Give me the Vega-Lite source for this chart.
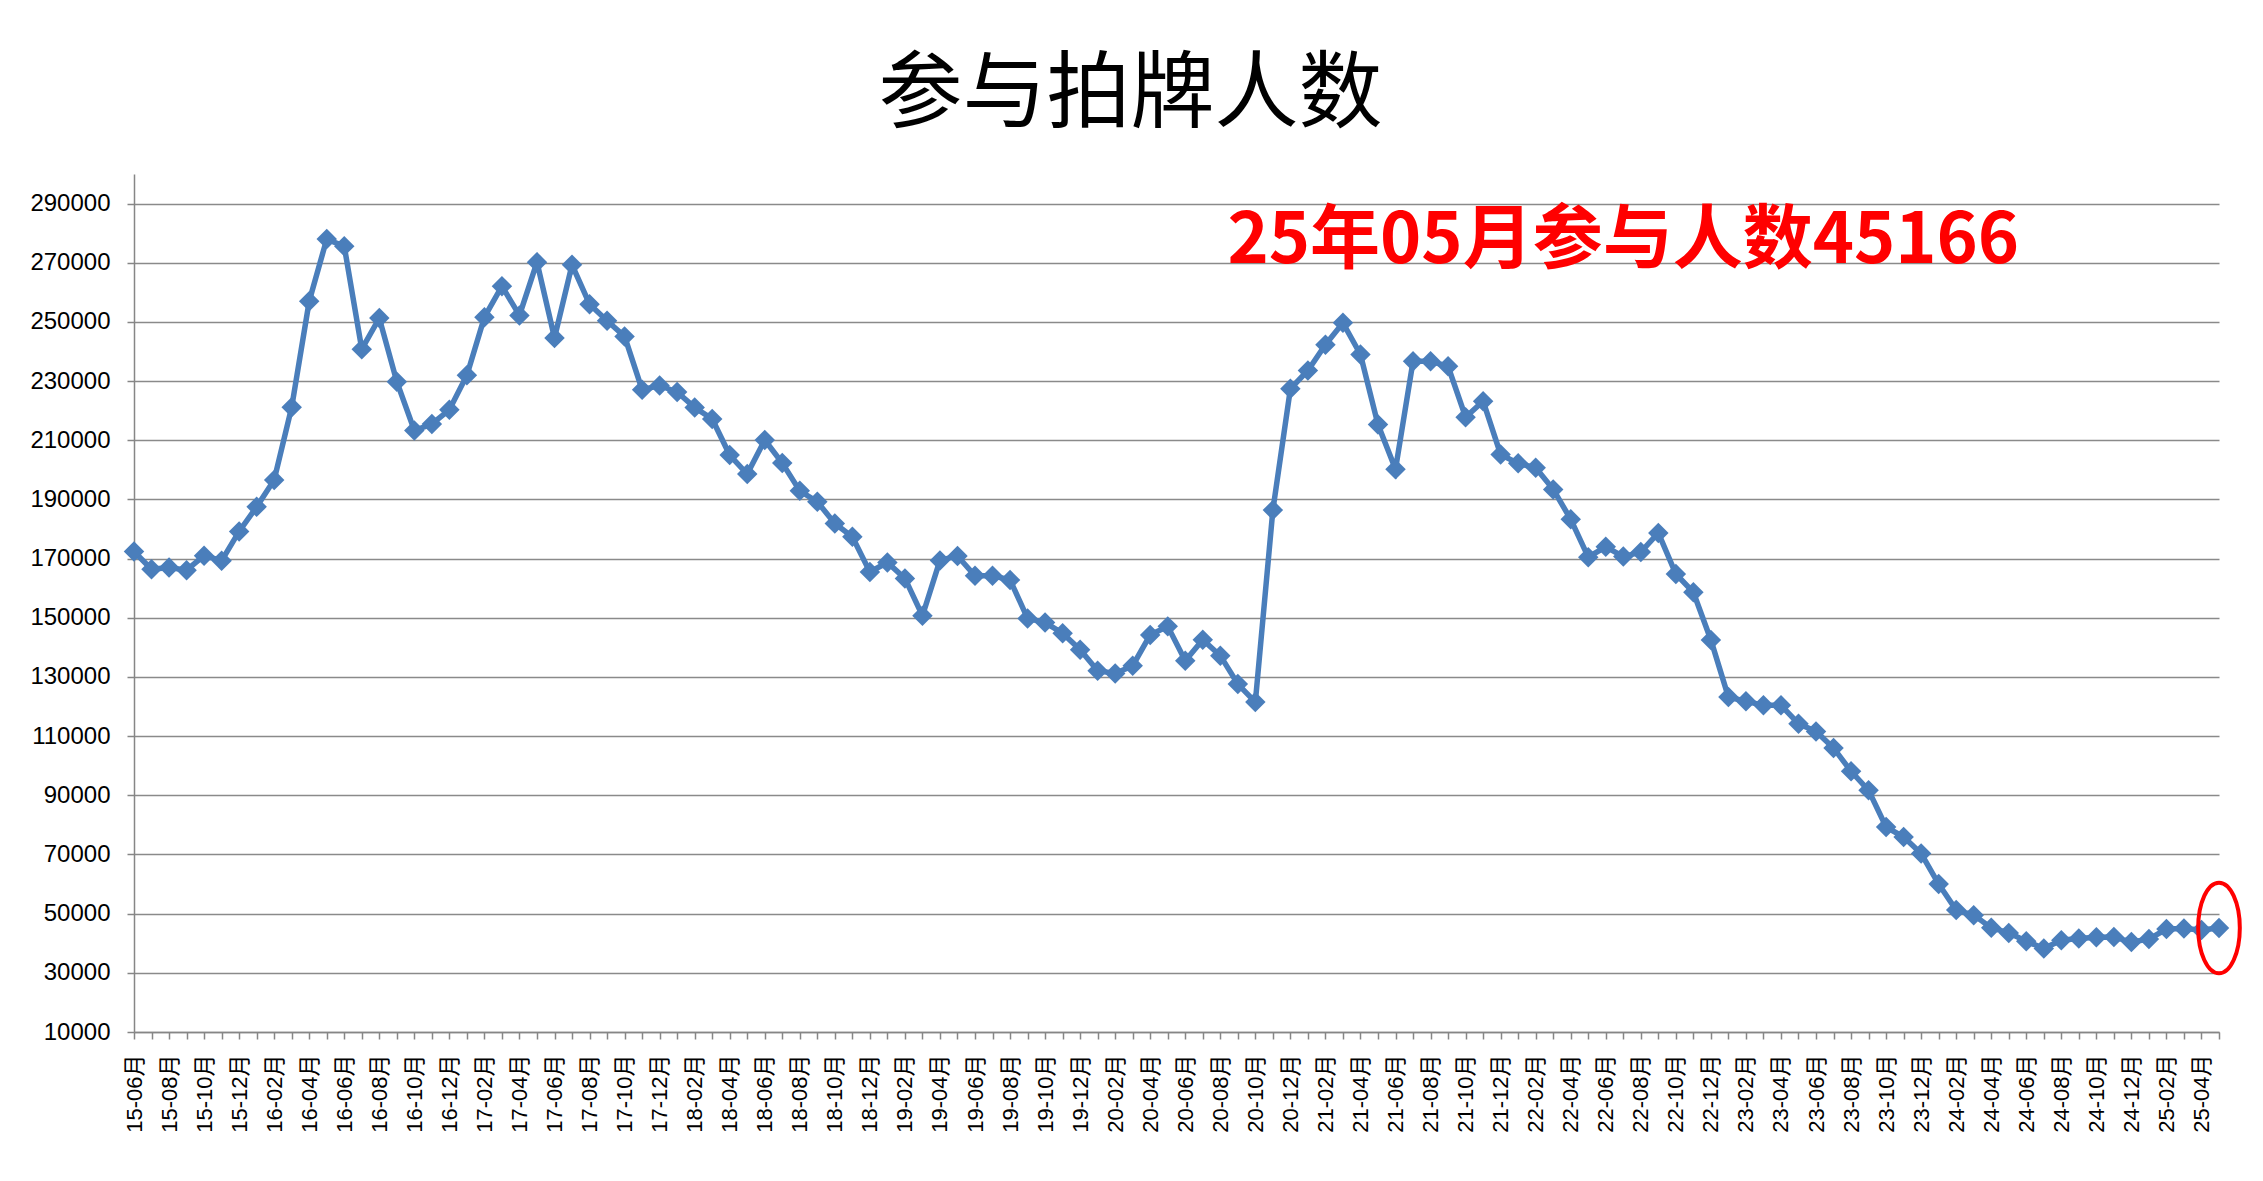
{
  "$schema": "https://vega.github.io/schema/vega-lite/v6.json",
  "width": 2085,
  "height": 858,
  "autosize": {"type": "none"},
  "padding": {"left": 134, "top": 174, "right": 44, "bottom": 149},
  "background": "white",
  "title": {
    "text": "参与拍牌人数",
    "font": "Noto Sans CJK SC",
    "fontSize": 84,
    "fontWeight": "normal",
    "color": "#000000",
    "anchor": "middle",
    "dx": -46,
    "offset": -49,
    "baseline": "bottom"
  },
  "datasets": {
    "series": [
      {"month": "15-06月", "people": 172400},
      {"month": "15-07月", "people": 166400},
      {"month": "15-08月", "people": 167000},
      {"month": "15-09月", "people": 166100},
      {"month": "15-10月", "people": 171000},
      {"month": "15-11月", "people": 169300},
      {"month": "15-12月", "people": 179200},
      {"month": "16-01月", "people": 187500},
      {"month": "16-02月", "people": 196600},
      {"month": "16-03月", "people": 221200},
      {"month": "16-04月", "people": 257000},
      {"month": "16-05月", "people": 278000},
      {"month": "16-06月", "people": 275600},
      {"month": "16-07月", "people": 240800},
      {"month": "16-08月", "people": 251300},
      {"month": "16-09月", "people": 229800},
      {"month": "16-10月", "people": 213300},
      {"month": "16-11月", "people": 215500},
      {"month": "16-12月", "people": 220300},
      {"month": "17-01月", "people": 232000},
      {"month": "17-02月", "people": 251600},
      {"month": "17-03月", "people": 262100},
      {"month": "17-04月", "people": 252200},
      {"month": "17-05月", "people": 270200},
      {"month": "17-06月", "people": 244600},
      {"month": "17-07月", "people": 269300},
      {"month": "17-08月", "people": 256000},
      {"month": "17-09月", "people": 250400},
      {"month": "17-10月", "people": 245100},
      {"month": "17-11月", "people": 227100},
      {"month": "17-12月", "people": 228500},
      {"month": "18-01月", "people": 226300},
      {"month": "18-02月", "people": 221100},
      {"month": "18-03月", "people": 217200},
      {"month": "18-04月", "people": 205000},
      {"month": "18-05月", "people": 198600},
      {"month": "18-06月", "people": 210100},
      {"month": "18-07月", "people": 202300},
      {"month": "18-08月", "people": 192900},
      {"month": "18-09月", "people": 189200},
      {"month": "18-10月", "people": 181900},
      {"month": "18-11月", "people": 177400},
      {"month": "18-12月", "people": 165500},
      {"month": "19-01月", "people": 168700},
      {"month": "19-02月", "people": 163300},
      {"month": "19-03月", "people": 150700},
      {"month": "19-04月", "people": 169400},
      {"month": "19-05月", "people": 170900},
      {"month": "19-06月", "people": 164200},
      {"month": "19-07月", "people": 164200},
      {"month": "19-08月", "people": 162800},
      {"month": "19-09月", "people": 149800},
      {"month": "19-10月", "people": 148400},
      {"month": "19-11月", "people": 144800},
      {"month": "19-12月", "people": 139200},
      {"month": "20-01月", "people": 132100},
      {"month": "20-02月", "people": 131200},
      {"month": "20-03月", "people": 133800},
      {"month": "20-04月", "people": 144200},
      {"month": "20-05月", "people": 147100},
      {"month": "20-06月", "people": 135500},
      {"month": "20-07月", "people": 142600},
      {"month": "20-08月", "people": 137200},
      {"month": "20-09月", "people": 127600},
      {"month": "20-10月", "people": 121500},
      {"month": "20-11月", "people": 186400},
      {"month": "20-12月", "people": 227400},
      {"month": "21-01月", "people": 233600},
      {"month": "21-02月", "people": 242300},
      {"month": "21-03月", "people": 249700},
      {"month": "21-04月", "people": 239000},
      {"month": "21-05月", "people": 215300},
      {"month": "21-06月", "people": 200200},
      {"month": "21-07月", "people": 236700},
      {"month": "21-08月", "people": 236700},
      {"month": "21-09月", "people": 235000},
      {"month": "21-10月", "people": 217800},
      {"month": "21-11月", "people": 223200},
      {"month": "21-12月", "people": 205200},
      {"month": "22-01月", "people": 202200},
      {"month": "22-02月", "people": 200700},
      {"month": "22-03月", "people": 193400},
      {"month": "22-04月", "people": 183300},
      {"month": "22-05月", "people": 170500},
      {"month": "22-06月", "people": 174000},
      {"month": "22-07月", "people": 170700},
      {"month": "22-08月", "people": 172200},
      {"month": "22-09月", "people": 178700},
      {"month": "22-10月", "people": 164800},
      {"month": "22-11月", "people": 158600},
      {"month": "22-12月", "people": 142500},
      {"month": "23-01月", "people": 123200},
      {"month": "23-02月", "people": 121800},
      {"month": "23-03月", "people": 120400},
      {"month": "23-04月", "people": 120400},
      {"month": "23-05月", "people": 114200},
      {"month": "23-06月", "people": 111600},
      {"month": "23-07月", "people": 106000},
      {"month": "23-08月", "people": 98100},
      {"month": "23-09月", "people": 91700},
      {"month": "23-10月", "people": 79300},
      {"month": "23-11月", "people": 75900},
      {"month": "23-12月", "people": 70300},
      {"month": "24-01月", "people": 60000},
      {"month": "24-02月", "people": 51200},
      {"month": "24-03月", "people": 49500},
      {"month": "24-04月", "people": 45200},
      {"month": "24-05月", "people": 43500},
      {"month": "24-06月", "people": 40700},
      {"month": "24-07月", "people": 38200},
      {"month": "24-08月", "people": 41000},
      {"month": "24-09月", "people": 41600},
      {"month": "24-10月", "people": 42000},
      {"month": "24-11月", "people": 42100},
      {"month": "24-12月", "people": 40400},
      {"month": "25-01月", "people": 41400},
      {"month": "25-02月", "people": 44800},
      {"month": "25-03月", "people": 45000},
      {"month": "25-04月", "people": 44500},
      {"month": "25-05月", "people": 45166}
    ],
    "note": [
      {"month": "22-07月", "people": 270000, "text": "25年05月参与人数45166"}
    ]
  },
  "encoding": {
    "x": {
      "field": "month",
      "type": "ordinal",
      "sort": null,
      "scale": {"type": "point", "padding": 0},
      "axis": {
        "title": null,
        "labelAngle": -90,
        "labelExpr": "toNumber(substring(datum.value, 3, 5)) % 2 == 0 ? datum.value : ''",
        "labelFont": "Liberation Sans, Noto Sans CJK SC",
        "labelFontSize": 22,
        "labelColor": "#000000",
        "labelPadding": 15,
        "labelOverlap": false,
        "tickSize": 7,
        "grid": false
      }
    },
    "y": {
      "field": "people",
      "type": "quantitative",
      "scale": {"domain": [10000, 300000], "nice": false, "zero": false},
      "axis": {
        "title": null,
        "values": [10000, 30000, 50000, 70000, 90000, 110000, 130000, 150000, 170000, 190000, 210000, 230000, 250000, 270000, 290000],
        "format": "d",
        "labelFont": "Liberation Sans",
        "labelFontSize": 24,
        "labelColor": "#000000",
        "labelPadding": 17,
        "tickSize": 7,
        "grid": true,
        "gridColor": "#8a8a8a",
        "gridWidth": 1.5
      }
    }
  },
  "layer": [
    {
      "data": {"name": "series"},
      "mark": {"type": "line", "color": "#4a7ebb", "strokeWidth": 5.5}
    },
    {
      "data": {"name": "series"},
      "mark": {"type": "point", "shape": "diamond", "filled": true, "opacity": 1, "size": 420, "color": "#4a7ebb"}
    },
    {
      "data": {"name": "series"},
      "transform": [{"filter": "datum.month == '25-05月'"}],
      "mark": {
        "type": "point",
        "shape": "M0,-1A0.46,1,0,1,1,0,1A0.46,1,0,1,1,0,-1Z",
        "filled": false,
        "size": 8200,
        "strokeWidth": 4,
        "color": "#ff0000",
        "opacity": 1
      }
    },
    {
      "data": {"name": "note"},
      "mark": {
        "type": "text",
        "font": "Noto Sans CJK SC",
        "fontSize": 70,
        "fontWeight": "bold",
        "color": "#ff0000",
        "align": "center",
        "baseline": "alphabetic"
      },
      "encoding": {"text": {"field": "text"}}
    }
  ],
  "config": {
    "view": {"stroke": null},
    "axis": {
      "domainColor": "#868686",
      "domainWidth": 1.5,
      "tickColor": "#868686",
      "tickWidth": 1.5
    }
  }
}
